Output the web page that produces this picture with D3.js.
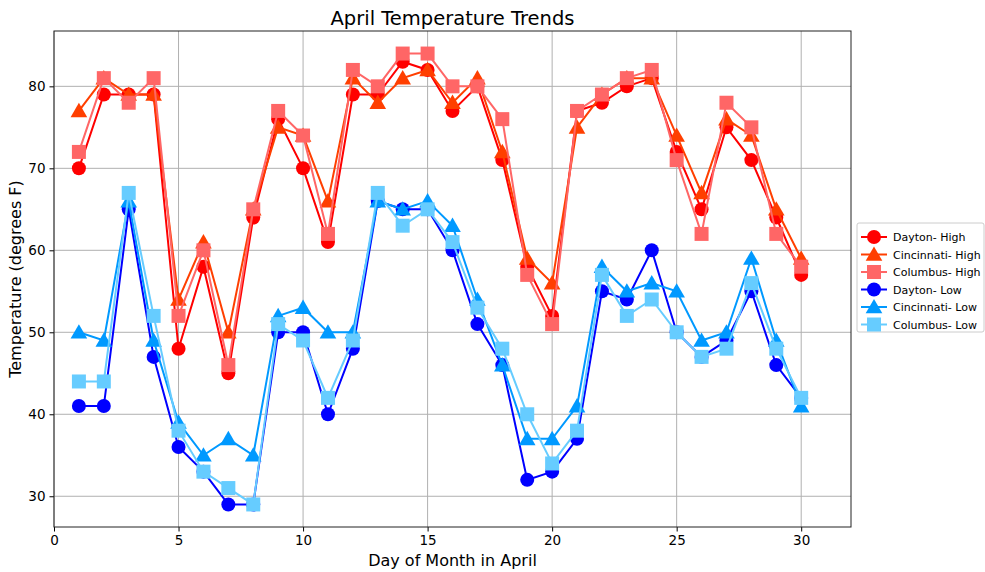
<!DOCTYPE html>
<html><head><meta charset="utf-8">
<script src="https://cdn.jsdelivr.net/npm/d3@7"></script>
<style>body{margin:0;background:#fff;} svg{font-family:"DejaVu Sans",sans-serif;}</style>
</head><body><svg id="c" width="985" height="572"></svg>
<script>
const days = d3.range(1, 31);
const daytonHigh = [70,79,79,79,48,58,45,64,76,70,61,79,79,83,82,77,80,71,58,52,77,78,80,81,72,65,75,71,64,57];
const cincinnatiHigh = [77,81,79,79,54,61,50,65,75,74,66,81,78,81,82,78,81,72,59,56,75,79,81,81,74,67,76,74,65,59];
const columbusHigh = [72,81,78,81,52,60,46,65,77,74,62,82,80,84,84,80,80,76,57,51,77,79,81,82,71,62,78,75,62,58];
const daytonLow = [41,41,65,47,36,33,29,29,50,50,40,48,66,65,65,60,51,46,32,33,37,55,54,60,50,47,49,55,46,42];
const cincinnatiLow = [50,49,66,49,39,35,37,35,52,53,50,50,66,65,66,63,54,46,37,37,41,58,55,56,55,49,50,59,49,41];
const columbusLow = [44,44,67,52,38,33,31,29,51,49,42,49,67,63,65,61,53,48,40,34,38,57,52,54,50,47,48,56,48,42];
const seriesNames = ["Dayton- High","Cincinnati- High","Columbus- High","Dayton- Low","Cincinnati- Low","Columbus- Low"];
const xTicks = [0,5,10,15,20,25,30];
const yTicks = [30,40,50,60,70,80];

const series = [
  {name: seriesNames[0], values: daytonHigh, color: "#ff0000", marker: "circle"},
  {name: seriesNames[1], values: cincinnatiHigh, color: "#ff3f00", marker: "triangle"},
  {name: seriesNames[2], values: columbusHigh, color: "#ff6666", marker: "square"},
  {name: seriesNames[3], values: daytonLow, color: "#0000ff", marker: "circle"},
  {name: seriesNames[4], values: cincinnatiLow, color: "#0099ff", marker: "triangle"},
  {name: seriesNames[5], values: columbusLow, color: "#66ccff", marker: "square"}
];

const svg = d3.select("#c");
const L = 54, R = 851, T = 31, B = 527;
const x = d3.scaleLinear().domain([0, 32]).range([L, R]);
const y = d3.scaleLinear().domain([26.25, 86.75]).range([B, T]);

// grid
const g = svg.append("g");
g.selectAll(".gx").data(xTicks).enter().append("line")
  .attr("x1", d => x(d)).attr("x2", d => x(d)).attr("y1", T).attr("y2", B)
  .attr("stroke", "#b0b0b0").attr("stroke-width", 1);
g.selectAll(".gy").data(yTicks).enter().append("line")
  .attr("x1", L).attr("x2", R).attr("y1", d => y(d)).attr("y2", d => y(d))
  .attr("stroke", "#b0b0b0").attr("stroke-width", 1);

// axes
const xa = svg.append("g").attr("transform", `translate(0,${B})`)
  .call(d3.axisBottom(x).tickValues(xTicks).tickSize(4.5).tickPadding(4));
const ya = svg.append("g").attr("transform", `translate(${L},0)`)
  .call(d3.axisLeft(y).tickValues(yTicks).tickSize(4.5).tickPadding(4));
[xa, ya].forEach(a => {
  a.selectAll("text").attr("font-size", 13.5).attr("fill", "#000").attr("font-family", "DejaVu Sans");
  a.select(".domain").remove();
  a.selectAll("line").attr("stroke", "#000");
});

const sym = {circle: d3.symbolCircle, triangle: d3.symbolTriangle, square: d3.symbolSquare};
const symSize = {circle: Math.PI * 7 * 7, triangle: 120, square: 14 * 14};

const line = d3.line().x((d, i) => x(days[i])).y(d => y(d));
series.forEach(s => {
  const sg = svg.append("g");
  sg.append("path").attr("d", line(s.values)).attr("fill", "none")
    .attr("stroke", s.color).attr("stroke-width", 2);
  sg.selectAll("path.m").data(s.values).enter().append("path").attr("class", "m")
    .attr("d", d3.symbol().type(sym[s.marker]).size(symSize[s.marker]))
    .attr("transform", (d, i) => `translate(${x(days[i])},${y(d) + (s.marker === "triangle" ? 1.5 : 0)})`)
    .attr("fill", s.color);
});

// frame
svg.append("rect").attr("x", L).attr("y", T).attr("width", R - L).attr("height", B - T)
  .attr("fill", "none").attr("stroke", "#222").attr("stroke-width", 1);

// title and labels
svg.append("text").attr("x", (L + R) / 2).attr("y", 25).attr("text-anchor", "middle")
  .attr("font-size", 19.5).text("April Temperature Trends");
svg.append("text").attr("x", (L + R) / 2).attr("y", 566).attr("text-anchor", "middle")
  .attr("font-size", 16).text("Day of Month in April");
svg.append("text").attr("transform", `translate(21,${(T + B) / 2}) rotate(-90)`).attr("text-anchor", "middle")
  .attr("font-size", 16).text("Temperature (degrees F)");

// legend
const lg = svg.append("g").attr("transform", "translate(857,223)");
lg.append("rect").attr("x", 0).attr("y", 0).attr("width", 127).attr("height", 109).attr("rx", 2)
  .attr("fill", "#fff").attr("stroke", "#cccccc");
series.forEach((s, i) => {
  const yy = 14 + i * 17.5;
  lg.append("line").attr("x1", 4).attr("x2", 30).attr("y1", yy).attr("y2", yy)
    .attr("stroke", s.color).attr("stroke-width", 2);
  lg.append("path").attr("d", d3.symbol().type(sym[s.marker]).size(symSize[s.marker])())
    .attr("transform", `translate(17,${yy + (s.marker === "triangle" ? 1.5 : 0)})`).attr("fill", s.color);
  lg.append("text").attr("x", 36).attr("y", yy + 4).attr("font-size", 11).text(s.name);
});
</script></body></html>
